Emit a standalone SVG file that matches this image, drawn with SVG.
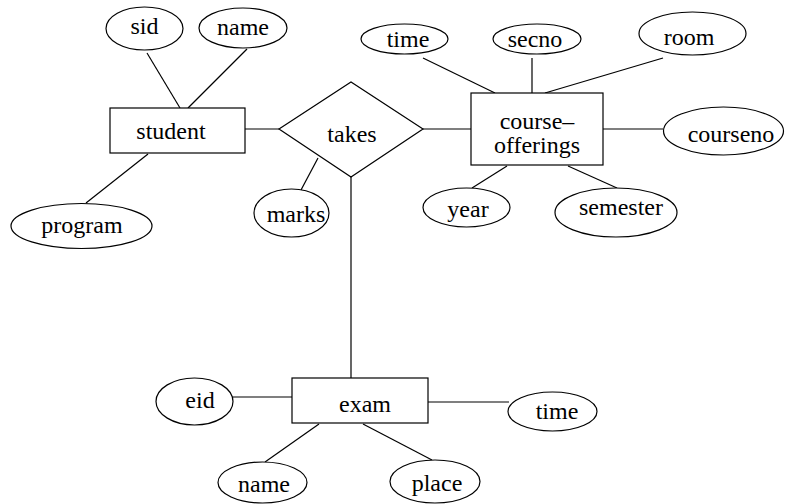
<svg xmlns="http://www.w3.org/2000/svg" width="792" height="504" viewBox="0 0 792 504" font-family="'Liberation Serif', 'Times New Roman', Times, serif">
<style>
.s{fill:#fff;stroke:#000;stroke-width:1.2}
.l{stroke:#000;stroke-width:1.2;fill:none}
text{font-family:'Liberation Serif','Times New Roman',Times,serif;font-size:24px;fill:#000;text-anchor:middle}
</style>
<rect width="792" height="504" fill="#fff"/>
<g id="connectors">
<line class="l" x1="147" y1="53" x2="180" y2="108"/>
<line class="l" x1="247" y1="49" x2="188" y2="108"/>
<line class="l" x1="148" y1="154" x2="86" y2="203"/>
<line class="l" x1="245" y1="129" x2="279" y2="129"/>
<line class="l" x1="318" y1="158" x2="301" y2="190"/>
<line class="l" x1="423" y1="129" x2="471" y2="129"/>
<line class="l" x1="351" y1="177" x2="351" y2="378"/>
<line class="l" x1="423" y1="58" x2="495" y2="93"/>
<line class="l" x1="532" y1="58" x2="532" y2="93"/>
<line class="l" x1="663" y1="58" x2="545" y2="93"/>
<line class="l" x1="603" y1="129" x2="663" y2="129"/>
<line class="l" x1="507" y1="166" x2="472" y2="188"/>
<line class="l" x1="568" y1="166" x2="617" y2="188"/>
<line class="l" x1="233" y1="397" x2="292" y2="397"/>
<line class="l" x1="428" y1="402" x2="509" y2="402"/>
<line class="l" x1="319" y1="424" x2="265" y2="462"/>
<line class="l" x1="363" y1="424" x2="432" y2="460"/>
</g>
<g id="student"><rect class="s" x="110" y="108" width="135" height="45"/><text x="171" y="139">student</text></g>
<g id="sid"><ellipse class="s" cx="144.5" cy="28.5" rx="38.5" ry="21.5"/><text x="144.5" y="34">sid</text></g>
<g id="name"><ellipse class="s" cx="243" cy="28" rx="44" ry="20"/><text x="243" y="35">name</text></g>
<g id="program"><ellipse class="s" cx="81.5" cy="226" rx="70.5" ry="22.5"/><text x="82" y="233">program</text></g>
<g id="takes"><polygon class="s" points="279,129 351,82 423,129 351,177"/><text x="352" y="142">takes</text></g>
<g id="marks"><ellipse class="s" cx="291.5" cy="213" rx="37.5" ry="24"/><text x="296" y="222">marks</text></g>
<g id="course-offerings"><rect class="s" x="471" y="93" width="132" height="72"/><text x="537" y="129">course–</text><text x="537" y="153">offerings</text></g>
<g id="time1"><ellipse class="s" cx="404.5" cy="39" rx="43.5" ry="15"/><text x="408" y="47">time</text></g>
<g id="secno"><ellipse class="s" cx="537" cy="39" rx="44" ry="15"/><text x="535" y="47">secno</text></g>
<g id="room"><ellipse class="s" cx="692.5" cy="33.5" rx="53.5" ry="21.5"/><text x="689" y="45">room</text></g>
<g id="courseno"><ellipse class="s" cx="723.5" cy="131" rx="60" ry="24"/><text x="731" y="142">courseno</text></g>
<g id="year"><ellipse class="s" cx="466.5" cy="207.5" rx="43.5" ry="19.5"/><text x="468" y="217">year</text></g>
<g id="semester"><ellipse class="s" cx="616" cy="212.5" rx="61" ry="24.5"/><text x="621" y="215">semester</text></g>
<g id="exam"><rect class="s" x="292" y="378" width="136" height="45"/><text x="365" y="412">exam</text></g>
<g id="eid"><ellipse class="s" cx="194.5" cy="401.5" rx="38.5" ry="23.5"/><text x="200" y="408">eid</text></g>
<g id="time2"><ellipse class="s" cx="552.5" cy="411.5" rx="44.5" ry="19.5"/><text x="557" y="419">time</text></g>
<g id="name2"><ellipse class="s" cx="262.5" cy="482.5" rx="44.5" ry="20.5"/><text x="264" y="492">name</text></g>
<g id="place"><ellipse class="s" cx="435" cy="481.5" rx="45" ry="21.5"/><text x="437" y="491">place</text></g>
</svg>
